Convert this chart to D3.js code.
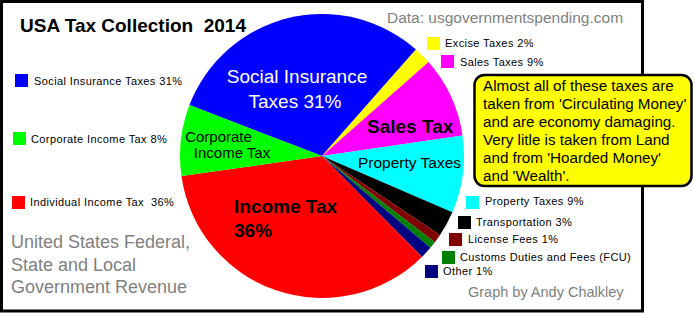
<!DOCTYPE html>
<html><head><meta charset="utf-8">
<script src="https://cdn.jsdelivr.net/npm/d3@7/dist/d3.min.js"></script>
<style>
body{margin:0;background:#fff}
svg{display:block}
text{font-family:Arial,"Liberation Sans",sans-serif;white-space:pre}
</style></head><body>
<svg id="c" width="694" height="313"></svg>
<script>
// ---- data ----
const categories = ["Social Insurance Taxes","Excise Taxes","Sales Taxes","Property Taxes","Transportation","License Fees","Customs Duties and Fees (FCU)","Other","Individual Income Tax","Corporate Income Tax"];
const values = [30.7, 2.0, 9.2, 8.8, 2.9, 1.0, 0.8, 1.4, 35.2, 8.1];
const colors = ["#0000ff","#ffff00","#ff00ff","#00ffff","#000000","#800000","#008000","#000080","#ff0000","#00ff00"];
const legendLabels = ["Social Insurance Taxes 31%","Excise Taxes 2%","Sales Taxes 9%","Property Taxes 9%","Transportation 3%","License Fees 1%","Customs Duties and Fees (FCU)","Other 1%","Individual Income Tax  36%","Corporate Income Tax 8%"];
const noteLines = ["Almost all of these taxes are","taken from 'Circulating Money'","and are economy damaging.","Very litle is taken from Land","and from 'Hoarded Money'","and 'Wealth'."];
const subtitleLines = ["United States Federal,","State and Local","Government Revenue"];

// ---- layout ----
const svg = d3.select("#c");
svg.append("rect").attr("width",694).attr("height",313).attr("fill","#fff");
svg.append("rect").attr("x",1.5).attr("y",1.5).attr("width",641).attr("height",309.5)
  .attr("fill","#fff").attr("stroke","#000").attr("stroke-width",3);

const cx = 322, cy = 156, r = 142;
const deg = Math.PI/180;
const pie = d3.pie().sort(null).value(d=>d).startAngle(-69*deg).endAngle(291*deg);
const arc = d3.arc().innerRadius(0).outerRadius(r);
const g = svg.append("g").attr("transform",`translate(${cx},${cy})`);
g.selectAll("path").data(pie(values)).join("path")
  .attr("d",arc).attr("fill",(d,i)=>colors[i]);

// slice labels
const lbl = (x,y,t,size,fill,weight)=>svg.append("text").attr("x",x).attr("y",y)
  .attr("font-size",size).attr("fill",fill).attr("font-weight",weight||"normal").text(t);
const lblc = (x,y,t,size,fill,weight)=>lbl(x,y,t,size,fill,weight).attr("text-anchor","middle");
lblc(297,83,"Social Insurance",19,"#fff");
lblc(295,108,"Taxes 31%",19,"#fff");
lblc(218.5,142,"Corporate",15,"#000");
lblc(232,158,"Income Tax",15,"#000");
lbl(234,213,"Income Tax",19,"#000","bold");
lbl(234,237,"36%",19,"#000","bold");
lbl(367,133,"Sales Tax",19,"#000","bold");
lbl(358,168,"Property Taxes",15.5,"#000");

// legends
const legPos = [[15,74],[427,37],[441,55],[466,196],[458,216],[449,233],[442,251],[425,265],[12,196],[13,132]];
const legTextPos = [[34,85],[445,47],[460,66],[485,204.5],[476,226],[468,243],[460,261],[443,274.5],[30,205.5],[31,143]];
categories.forEach((c,i)=>{
  svg.append("rect").attr("x",legPos[i][0]).attr("y",legPos[i][1]).attr("width",13).attr("height",13).attr("fill",colors[i]);
  svg.append("text").attr("x",legTextPos[i][0]).attr("y",legTextPos[i][1]).attr("font-size",11)
    .attr("letter-spacing",0.4).attr("fill","#000").text(legendLabels[i]);
});

// title & credits
lbl(20,32,"USA Tax Collection  2014",19,"#000","bold");
lbl(387,23,"Data: usgovernmentspending.com",15.5,"#808080");
lbl(468,297,"Graph by Andy Chalkley",14.5,"#808080");
subtitleLines.forEach((t,i)=>lbl(11,248+i*22.5,t,18,"#808080"));

// note box
svg.append("rect").attr("x",474.5).attr("y",75).attr("width",217).attr("height",111).attr("rx",10)
  .attr("fill","#ffff00").attr("stroke","#000").attr("stroke-width",2.5);
noteLines.forEach((t,i)=>lbl(483,91+i*18,t,15.2,"#000"));
</script>
</body></html>
